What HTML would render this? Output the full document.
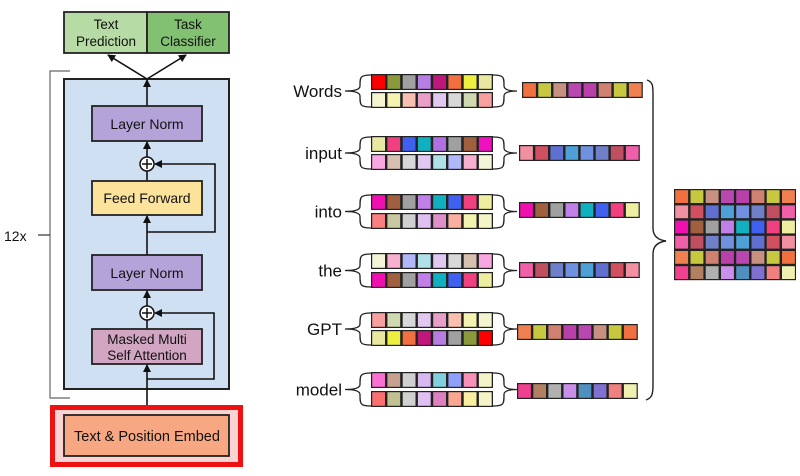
<!DOCTYPE html>
<html><head><meta charset="utf-8"><style>
html,body{margin:0;padding:0;background:#fff;width:800px;height:476px;overflow:hidden}
svg{display:block}
text{font-family:"Liberation Sans",sans-serif;fill:#111}
</style></head><body>
<svg id="s" width="800" height="476" viewBox="0 0 800 476" xmlns="http://www.w3.org/2000/svg">
<defs><marker id="a" markerWidth="8" markerHeight="8" refX="7" refY="4" orient="auto" markerUnits="userSpaceOnUse"><path d="M0,0 L8,4 L0,8 z" fill="#111"/></marker></defs>
<path d="M70,71 H50 V398 H70" fill="none" stroke="#666" stroke-width="1.2"/>
<line x1="38" y1="235" x2="50" y2="235" stroke="#333" stroke-width="1.2"/>
<text x="4" y="241" font-size="14">12x</text>
<rect x="64" y="12" width="83" height="41" fill="#b7dba4" stroke="#222" stroke-width="1.8"/>
<rect x="147" y="12" width="82" height="41" fill="#82c172" stroke="#222" stroke-width="1.8"/>
<text x="106" y="29" font-size="13.5" text-anchor="middle">Text</text>
<text x="106" y="46" font-size="13.5" text-anchor="middle">Prediction</text>
<text x="188" y="29" font-size="13.5" text-anchor="middle">Task</text>
<text x="188" y="46" font-size="13.5" text-anchor="middle">Classifier</text>
<rect x="64" y="79" width="165" height="310" fill="#cfe0f3" stroke="#222" stroke-width="2"/>
<line x1="147" y1="79" x2="108" y2="55" stroke="#111" stroke-width="1.6" marker-end="url(#a)"/>
<line x1="147" y1="79" x2="186" y2="55" stroke="#111" stroke-width="1.6" marker-end="url(#a)"/>
<line x1="147" y1="106" x2="147" y2="80" stroke="#111" stroke-width="1.6" marker-end="url(#a)"/>
<rect x="92" y="106" width="110" height="35" fill="#b4a3d8" stroke="#222" stroke-width="1.8"/>
<text x="147" y="129" font-size="14" text-anchor="middle">Layer Norm</text>
<line x1="147" y1="157" x2="147" y2="142" stroke="#111" stroke-width="1.6" marker-end="url(#a)"/>
<circle cx="147" cy="164" r="7" fill="#fff" stroke="#111" stroke-width="1.5"/>
<path d="M142,164 H152 M147,159 V169" stroke="#111" stroke-width="1.5"/>
<line x1="147" y1="181" x2="147" y2="171" stroke="#111" stroke-width="1.6"/>
<rect x="92" y="181" width="110" height="34" fill="#fbe39c" stroke="#222" stroke-width="1.8"/>
<text x="147" y="203" font-size="14" text-anchor="middle">Feed Forward</text>
<line x1="147" y1="255" x2="147" y2="216" stroke="#111" stroke-width="1.6" marker-end="url(#a)"/>
<path d="M147,232 H215 V164 H155" fill="none" stroke="#111" stroke-width="1.6" marker-end="url(#a)"/>
<rect x="92" y="255" width="110" height="35" fill="#b4a3d8" stroke="#222" stroke-width="1.8"/>
<text x="147" y="278" font-size="14" text-anchor="middle">Layer Norm</text>
<line x1="147" y1="306" x2="147" y2="291" stroke="#111" stroke-width="1.6" marker-end="url(#a)"/>
<circle cx="147" cy="313" r="7" fill="#fff" stroke="#111" stroke-width="1.5"/>
<path d="M142,313 H152 M147,308 V318" stroke="#111" stroke-width="1.5"/>
<line x1="147" y1="329" x2="147" y2="320" stroke="#111" stroke-width="1.6"/>
<rect x="92" y="329" width="110" height="35" fill="#d2a6c3" stroke="#222" stroke-width="1.8"/>
<text x="147" y="344" font-size="13.5" text-anchor="middle">Masked Multi</text>
<text x="147" y="360" font-size="13.5" text-anchor="middle">Self Attention</text>
<line x1="147" y1="415" x2="147" y2="365" stroke="#111" stroke-width="1.6" marker-end="url(#a)"/>
<path d="M147,379 H214 V313 H155" fill="none" stroke="#111" stroke-width="1.6" marker-end="url(#a)"/>
<rect x="52.5" y="407.5" width="188" height="57" fill="#fbd3d3" stroke="#ee1111" stroke-width="5"/>
<rect x="64" y="415" width="165" height="41" fill="#f7a882" stroke="#222" stroke-width="1.8"/>
<text x="147" y="441" font-size="14.5" text-anchor="middle">Text &amp; Position Embed</text>
<g id="r"></g>
</svg>
<script>
var C=[
[["#f00","#8a9a3a","#a0a0a0","#b57ee0","#c0187a","#f07040","#eef040","#e8e8a0"],["#f4f4d0","#f4f4b0","#f8c0b0","#e8a0c8","#e0c8f0","#d8d8d8","#d0d8b0","#f8a0a0"],["#f07040","#c8c840","#c89080","#b848b0","#b840a8","#d08070","#c8c840","#f08050"]],
[["#e8e8a0","#f04080","#4060f0","#10b0c0","#b070e0","#a0a0a0","#a06040","#f010c0"],["#f8a8e0","#d8c0b0","#d8d8d8","#e0c8f0","#b0e0e8","#b0b8f8","#f8b0d0","#f4f4d8"],["#f090a0","#d05060","#6070d0","#50a0d8","#7090e0","#7080c8","#c05060","#f060a8"]],
[["#f010b0","#a06040","#a0a0a0","#c080e8","#10b0c0","#4060f0","#f04080","#eeeea0"],["#f88080","#c8c8a0","#d0d0d0","#e0c0f0","#e090c8","#f8b0a0","#f4f4b0","#f4f4c8"],["#f010b0","#a06040","#a0a0a0","#c080e8","#10b0c0","#4060f0","#f04080","#eeeea0"]],
[["#f4f4d8","#f8b0d0","#b0b8f8","#b0e0e8","#e0c8f0","#d8d8d8","#d8c0b0","#f8a8e0"],["#f010b0","#a06040","#a0a0a0","#c080e8","#10b0c0","#4060f0","#f04080","#eeeea0"],["#f060a8","#c05060","#7080c8","#7090e0","#50a0d8","#6070d0","#d05060","#f090a0"]],
[["#f8a0a0","#d0d8b0","#d8d8d8","#e0c8f0","#e8a0c8","#f8c0b0","#f4f4b0","#f4f4d0"],["#e8e8a0","#eef040","#f07040","#c0187a","#b57ee0","#a0a0a0","#8a9a3a","#f00"],["#f08050","#c8c840","#d08070","#b840a8","#b848b0","#c89080","#c8c840","#f07040"]],
[["#f870d0","#c8a090","#d0d0d0","#d8b8f0","#80d0e0","#90a0f8","#f890b8","#f4f4c8"],["#f87070","#c0c090","#d0d0d0","#e0c0f0","#e080c0","#f8a890","#f8f0a0","#f4f4c8"],["#f04090","#b08060","#b0b0b0","#c890e8","#5090c0","#8070d0","#f08080","#f0f0b0"]]];
var W=["Words","input","into","the","GPT","model"];
var Y=[[74,92,82],[136,154,145],[194,213,202],[253,272,262],[312,330,324],[372,391,383]];
var OX=[522,519,519,519,517,517];
var h="";
function row(x,y,cw,ch,cols){var s='<rect x="'+x+'" y="'+y+'" width="'+(cw*8)+'" height="'+ch+'" fill="#222"/>';
for(var i=0;i<8;i++){s+='<rect x="'+(x+i*cw+1.2).toFixed(1)+'" y="'+(y+1.2)+'" width="'+(cw-2.4).toFixed(1)+'" height="'+(ch-2.4)+'" fill="'+cols[i]+'"/>';}return s;}
for(var g=0;g<6;g++){var y=Y[g],c=C[g];
h+=row(371,y[0],15.25,16,c[0]);h+=row(371,y[1],15.25,16,c[1]);h+=row(OX[g],y[2],15.1,16,c[2]);
var t=y[0]+1,b=y[1]+15,m=(t+b)/2;
h+='<text x="342" y="'+(m+6)+'" font-size="17" text-anchor="end">'+W[g]+'</text>';
h+='<path d="M371,'+t+' C360,'+t+' 360,'+(t+2)+' 360,'+(m-5)+' C360,'+(m-1)+' 352,'+m+' 345,'+m+' C352,'+m+' 360,'+(m+1)+' 360,'+(m+5)+' C360,'+(b-2)+' 360,'+b+' 371,'+b+'" fill="none" stroke="#222" stroke-width="1.3"/>';
h+='<path d="M493,'+t+' C504,'+t+' 504,'+(t+2)+' 504,'+(m-5)+' C504,'+(m-1)+' 510,'+m+' 517,'+m+' C510,'+m+' 504,'+(m+1)+' 504,'+(m+5)+' C504,'+(b-2)+' 504,'+b+' 493,'+b+'" fill="none" stroke="#222" stroke-width="1.3"/>';
for(var i=0;i<8;i++){h+='<rect x="'+(674+i*15.25+1.2).toFixed(1)+'" y="'+(189+g*15.2+1.2).toFixed(1)+'" width="12.9" height="12.8" fill="'+c[2][i]+'"/>';}
}
h='<rect x="674" y="189" width="122" height="91.2" fill="#222"/>'+h;
h+='<path d="M647,80 C653,82 653,86 653,95 L653,228 C653,236 658,240 666,241 C658,242 653,246 653,254 L653,385 C653,394 652,398 646,400" fill="none" stroke="#222" stroke-width="1.4"/>';
document.getElementById("r").innerHTML=h;
</script>
</body></html>
